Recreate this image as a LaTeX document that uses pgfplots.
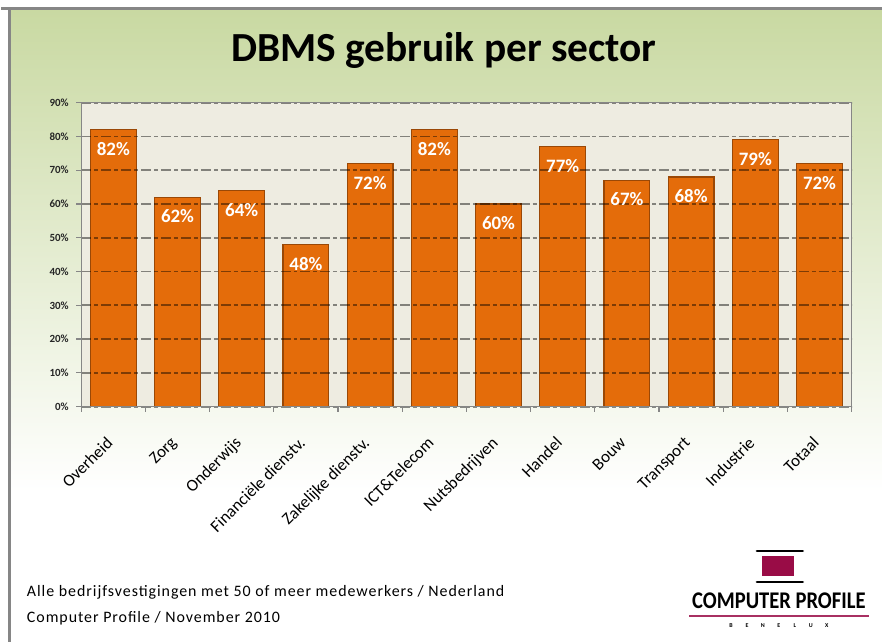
\documentclass[border=0pt]{standalone}
\usepackage{fontspec}
\setmainfont{Carlito}
\newfontfamily\spaced[LetterSpace=6]{Carlito}
\usepackage{pgfplots}
\pgfplotsset{compat=1.18}
\definecolor{bgG}{HTML}{C9D9A2}
\definecolor{plotbg}{HTML}{EEECE1}
\definecolor{barO}{HTML}{E46C0A}
\definecolor{barD}{HTML}{9A4806}
\definecolor{gridG}{HTML}{8C8C8C}
\definecolor{axG}{HTML}{868686}
\definecolor{logoR}{HTML}{990C46}
\begin{document}
\begin{tikzpicture}[x=1pt,y=1pt]
\fill[white] (0,0) rectangle (883,644);
\shade[top color=bgG, bottom color=white] (8,150) rectangle (883,634);
\draw[axG, line width=3pt] (0,635) -- (883,635);
\draw[axG, line width=2.5pt] (8,0) -- (8,636);
\node[anchor=base, font=\fontsize{41.5}{48}\selectfont\bfseries] at (444,582) {DBMS gebruik per sector};
\begin{axis}[
  at={(80pt,236pt)}, anchor=south west,
  width=773pt, height=305pt, scale only axis,
  xmin=-0.5, xmax=11.5, ymin=0, ymax=90, enlargelimits=false,
  axis background/.style={fill=plotbg},
  axis line style={draw=axG, line width=1.2pt},
  axis on top,
  xtick pos=bottom, ytick pos=left,
  ytick={0,10,...,90},
  yticklabels={0\%,10\%,20\%,30\%,40\%,50\%,60\%,70\%,80\%,90\%},
  ymajorgrids,
  major grid style={draw=gridG, line width=1.8pt, dash pattern=on 10pt off 3pt on 4pt off 3pt, blend mode=multiply},
  xtick={0,...,11},
  xticklabels={Overheid,Zorg,Onderwijs,Financiële dienstv.,Zakelijke dienstv.,ICT\&Telecom,Nutsbedrijven,Handel,Bouw,Transport,Industrie,Totaal},
  tick align=outside, major tick length=5pt,
  tick style={draw=axG, line width=1.2pt},
  xtick style={draw=none},
  extra x ticks={-0.5,0.5,...,11.5},
  extra x tick labels={},
  extra x tick style={xtick style={draw=axG, line width=1.2pt}},
  yticklabel style={font=\fontsize{11}{13}\selectfont\bfseries, text=black!85, xshift=-4pt},
  xticklabel style={font=\fontsize{17}{19}\selectfont, xshift=-8pt, yshift=-24pt, rotate=45, anchor=north east, inner sep=0pt},
]
\addplot[ybar, bar width=46pt, fill=barO, draw=barD, line width=1.3pt,
  nodes near coords={\pgfmathprintnumber[assume math mode=true]{\pgfplotspointmeta}\%},
  nodes near coords style={font=\fontsize{19}{22}\selectfont\bfseries, text=white, anchor=north, inner sep=0pt, yshift=-12pt}]
coordinates {(0,82) (1,62) (2,64) (3,48) (4,72) (5,82) (6,60) (7,77) (8,67) (9,68) (10,79) (11,72)};
\end{axis}
\node[anchor=base west, font=\spaced\fontsize{16}{20}\selectfont] at (22,45) {Alle bedrijfsvestigingen met 50 of meer medewerkers / Nederland};
\node[anchor=base west, font=\spaced\fontsize{16}{20}\selectfont] at (22,19) {Computer Profile / November 2010};
% logo
\fill[logoR] (763,66) rectangle (795,86);
\draw[line width=2.5pt, line cap=round] (758,91) -- (804,91);
\draw[line width=2.5pt, line cap=round] (758,60) -- (804,60);
\node[anchor=base, font=\fontsize{24}{26}\selectfont\bfseries, xscale=0.86] at (780,33) {COMPUTER PROFILE};
\draw[logoR!85, line width=1.5pt] (690,26) -- (870,26);
\foreach \l [count=\i from 0] in {B,E,N,E,L,U,X}
  \node[font=\fontsize{6}{7}\selectfont\bfseries] at (732+\i*16,16) {\l};
\end{tikzpicture}
\end{document}
